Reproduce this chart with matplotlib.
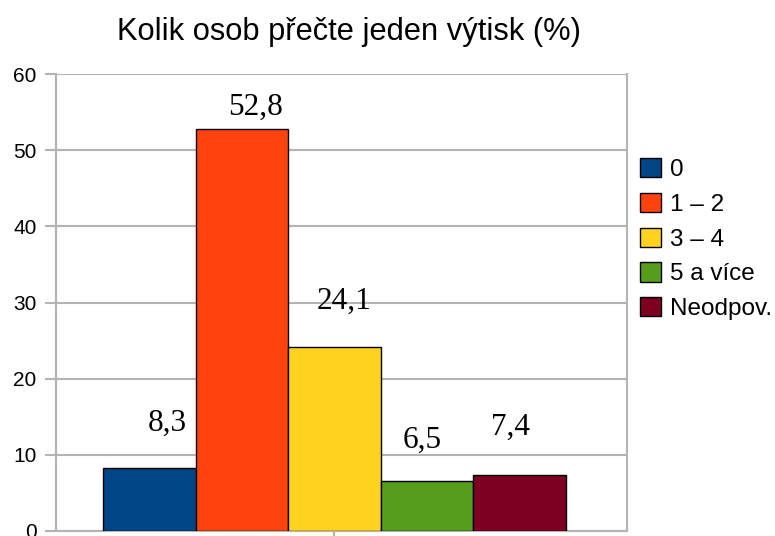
import matplotlib
matplotlib.use("Agg")
import matplotlib.pyplot as plt

plt.rcParams['font.family'] = ['Liberation Sans', 'DejaVu Sans']

categories = ["0", "1 – 2", "3 – 4", "5 a více", "Neodpov."]
values = [8.3, 52.8, 24.1, 6.5, 7.4]
labels = ["8,3", "52,8", "24,1", "6,5", "7,4"]
colors = ["#004586", "#ff420e", "#ffd320", "#579d1c", "#7e0021"]
yticks = [0, 10, 20, 30, 40, 50, 60]

# label offsets (points) relative to bar top centre, as placed in the original
label_offsets = [(12.6, 26.6), (9.7, 10), (7.2, 27.6), (-3.6, 24.1), (-6.5, 28.6)]

grey = "#b3b3b3"

fig = plt.figure(figsize=(7.75, 5.36), dpi=100)
ax = fig.add_axes([56 / 775, 5 / 536, 571 / 775, 457 / 536])

positions = list(range(len(values)))
bars = ax.bar(positions, values, width=1.0, color=colors, edgecolor="black",
              linewidth=1.0, label=categories, zorder=3)

for b, lab, off in zip(bars, labels, label_offsets):
    ax.annotate(lab, (b.get_x() + b.get_width() / 2, b.get_height()),
                xytext=off, textcoords="offset points", ha="center",
                va="baseline", fontsize=22.5, family="Liberation Serif",
                zorder=4)

ax.set_xlim(-1.008, 5.16)
ax.set_ylim(0, 60)
ax.set_yticks(yticks)
ax.set_yticklabels([str(t) for t in yticks], fontsize=15)
ax.set_xticks([2])
ax.set_xticklabels([""])
ax.tick_params(axis="y", length=8, width=1.5, color=grey, pad=6)
ax.tick_params(axis="x", length=8, width=1.5, color=grey)
ax.yaxis.grid(True, color=grey, linewidth=1.5, zorder=0)
for side in ["left", "right", "bottom"]:
    ax.spines[side].set_color(grey)
    ax.spines[side].set_linewidth(1.5)
ax.spines["top"].set_visible(False)

fig.text(349 / 775, 1 - 40 / 536, "Kolik osob přečte jeden výtisk (%)",
         ha="center", va="baseline", fontsize=22.2)

fig.legend(handles=list(bars), labels=categories, loc="upper left",
           bbox_to_anchor=(640 / 775, 1 - 158 / 536), frameon=False,
           fontsize=17.5, handlelength=0.85, handleheight=0.85,
           handletextpad=0.4, labelspacing=0.48, borderpad=0, borderaxespad=0)

fig.savefig("out.png", dpi=100)
